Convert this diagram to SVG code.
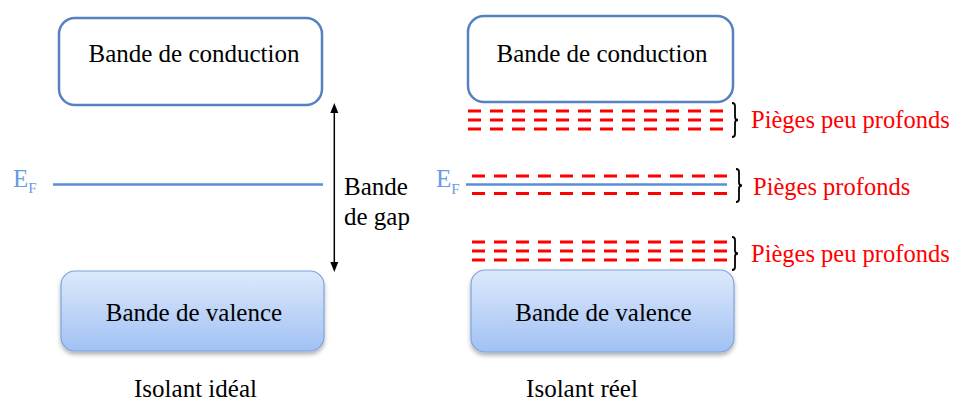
<svg xmlns="http://www.w3.org/2000/svg" width="955" height="403" viewBox="0 0 955 403">
<defs>
<style>
text{font-family:"Liberation Serif","Times New Roman",serif;}
.lbl{font-size:25px;fill:#000;}
.cb{fill:#fff;stroke:#5581c1;stroke-width:2.5;}
.vb{fill:url(#vg);stroke:#7ea4dc;stroke-width:1.2;filter:url(#sh);}
.ef{stroke:#5b8ed8;stroke-width:2.6;fill:none;}
.eft{fill:#6b9be2;}
.trap{stroke:#ff0000;stroke-width:3;stroke-dasharray:13 9;fill:none;}
.brace{stroke:#000;stroke-width:1.8;fill:none;}
.red{font-size:24.5px;fill:#ff0000;}
</style>
<linearGradient id="vg" x1="0" y1="0" x2="0" y2="1">
<stop offset="0" stop-color="#dde9fb"/>
<stop offset="1" stop-color="#a1c1f4"/>
</linearGradient>
<filter id="sh" x="-10%" y="-10%" width="120%" height="130%">
<feDropShadow dx="0" dy="3" stdDeviation="2" flood-color="#000" flood-opacity="0.3"/>
</filter>
<marker id="ah" markerUnits="userSpaceOnUse" markerWidth="10" markerHeight="10" viewBox="0 0 10 8" refX="0" refY="4" orient="auto-start-reverse">
<path d="M0,0 L10,4 L0,8 z" fill="#000"/>
</marker>
</defs>

<g id="ideal-conduction">
<rect class="cb" x="59" y="18" width="263" height="87" rx="16"/>
<text class="lbl" x="194" y="62" text-anchor="middle">Bande de conduction</text>
</g>
<g id="ideal-valence">
<rect class="vb" x="61" y="271" width="263" height="80" rx="14"/>
<text class="lbl" x="194" y="321" text-anchor="middle">Bande de valence</text>
</g>
<g id="ideal-ef">
<line class="ef" x1="53" y1="184.5" x2="323" y2="184.5"/>
<text class="eft" x="13" y="187" font-size="25">E<tspan font-size="15" dy="6">F</tspan></text>
</g>
<g id="gap-label">
<text class="lbl" x="344" y="195">Bande</text>
<text class="lbl" x="344" y="225">de gap</text>
</g>
<text class="lbl" x="195.5" y="397" text-anchor="middle">Isolant idéal</text>

<g id="real-conduction">
<rect class="cb" x="468" y="16" width="265" height="86" rx="16"/>
<text class="lbl" x="602" y="62" text-anchor="middle">Bande de conduction</text>
</g>
<g id="real-valence">
<rect class="vb" x="471" y="270" width="263" height="82" rx="14"/>
<text class="lbl" x="603.5" y="321" text-anchor="middle">Bande de valence</text>
</g>
<g id="real-ef">
<line class="ef" x1="466" y1="184.5" x2="727" y2="184.5"/>
<text class="eft" x="436" y="187" font-size="25">E<tspan font-size="15" dy="7">F</tspan></text>
</g>
<g id="traps-shallow-top">
<line class="trap" x1="468" y1="111" x2="723" y2="111"/>
<line class="trap" x1="468" y1="120" x2="723" y2="120"/>
<line class="trap" x1="468" y1="129" x2="723" y2="129"/>
<path class="brace" d="M732,103 Q735,103 735,106 L735,117 Q735,120 738,120 Q735,120 735,123 L735,134 Q735,137 732,137"/>
<text class="red" x="751" y="128">Pièges peu profonds</text>
</g>
<g id="traps-deep">
<line class="trap" x1="472" y1="176" x2="727" y2="176"/>
<line class="trap" x1="472" y1="193.5" x2="727" y2="193.5"/>
<path class="brace" d="M736,169 Q739,169 739,172 L739,182.5 Q739,185.5 742,185.5 Q739,185.5 739,188.5 L739,199 Q739,202 736,202"/>
<text class="red" x="753" y="195">Pièges profonds</text>
</g>
<g id="traps-shallow-bottom">
<line class="trap" x1="472" y1="242" x2="727" y2="242"/>
<line class="trap" x1="472" y1="251" x2="727" y2="251"/>
<line class="trap" x1="472" y1="260" x2="727" y2="260"/>
<path class="brace" d="M732,237 Q735,237 735,240 L735,250.5 Q735,253.5 738,253.5 Q735,253.5 735,256.5 L735,267 Q735,270 732,270"/>
<text class="red" x="751" y="262">Pièges peu profonds</text>
</g>
<text class="lbl" x="582" y="397" text-anchor="middle">Isolant réel</text>

<g id="connectors">
<line x1="334.3" y1="113" x2="334.3" y2="262" stroke="#000" stroke-width="1.5" marker-start="url(#ah)" marker-end="url(#ah)"/>
</g>
</svg>
